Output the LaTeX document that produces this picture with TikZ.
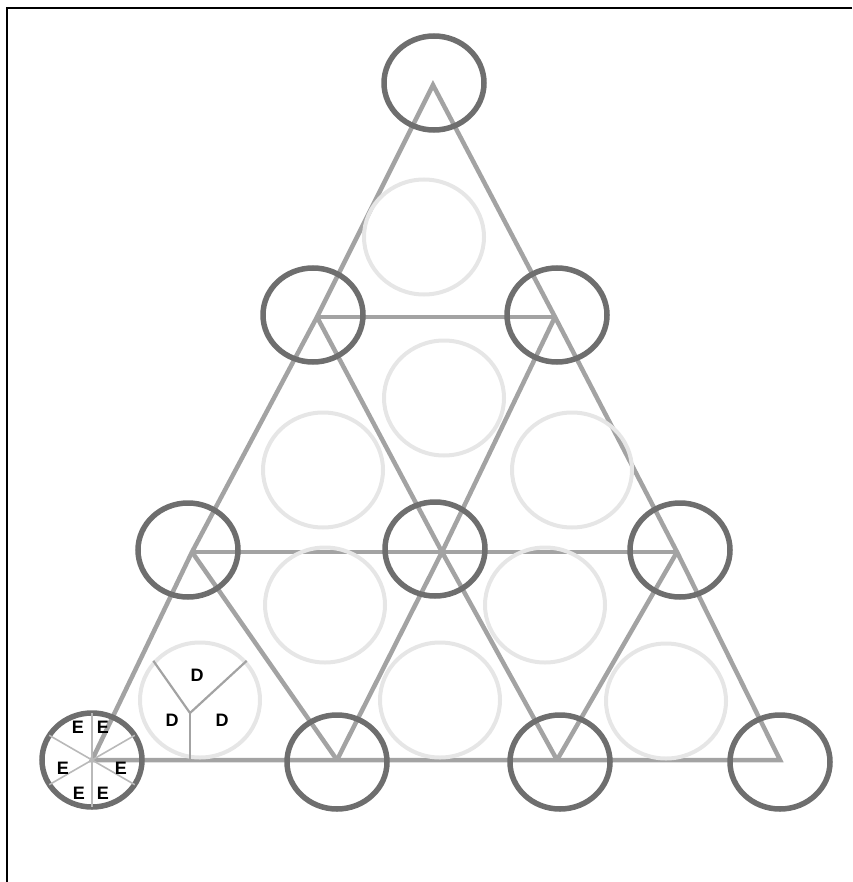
\documentclass[tikz,border=0pt]{standalone}
\usepackage{fontspec}
\setmainfont{Liberation Sans}
\usepackage{tikz}
\usepackage{xcolor}
\usetikzlibrary{shapes.geometric}
\definecolor{latline}{RGB}{163,163,163}
\definecolor{latring}{RGB}{110,110,110}
\definecolor{latpale}{RGB}{230,230,230}
\definecolor{latspoke}{RGB}{185,185,185}

\begin{document}
\begin{tikzpicture}[x=1pt,y=-1pt,
  every node/.style={font=\bfseries\fontsize{18}{18}\selectfont,inner sep=0pt},
  latedge/.style={draw=latline,line width=4.5pt},
  ring/.style={draw=latring,line width=5.5pt,ellipse,minimum width=100pt,minimum height=94pt},
  pale/.style={draw=latpale,line width=4pt,ellipse,minimum width=120pt,minimum height=115pt},
  spoke/.style={draw=latspoke,line width=1.6pt,shorten >=2.5pt},
  yline/.style={draw=latline,line width=2.2pt}]
\useasboundingbox (0,0) rectangle (852,882);
\draw[line width=2pt] (852,8) -- (7,8) -- (7,882);
% lattice points
\coordinate (a1) at (433,85);
\coordinate (b1) at (317,317);
\coordinate (b2) at (555,317);
\coordinate (c1) at (192,552);
\coordinate (c2) at (442,552);
\coordinate (c3) at (677,552);
\coordinate (d1) at (92,760);
\coordinate (d2) at (337,760);
\coordinate (d3) at (557,760);
\coordinate (d4) at (780,760);
% lattice lines
\draw[latedge] (a1) -- (b1) -- (c1) -- (d1) -- (d2) -- (d3) -- (d4) -- (c3) -- (b2) -- cycle;
\draw[latedge] (b1) -- (b2);
\draw[latedge] (c1) -- (c3);
\draw[latedge] (b1) -- (c2) -- (d3);
\draw[latedge] (b2) -- (c2) -- (d2);
\draw[latedge] (c1) -- (d2);
\draw[latedge] (c3) -- (d3);
% pale circles in the triangles
\node[pale] (p1) at (424,237) {};
\node[pale] (p2) at (444,398) {};
\node[pale] (p3) at (323,470) {};
\node[pale] (p4) at (572,470) {};
\node[pale] (p5) at (200,700) {};
\node[pale] (p6) at (325,605) {};
\node[pale] (p7) at (440,700) {};
\node[pale] (p8) at (545,605) {};
\node[pale] (p9) at (666,701) {};
% rings on the lattice points
\node[ring] (r1) at (434,83) {};
\node[ring] (r2) at (313,315) {};
\node[ring] (r3) at (557,315) {};
\node[ring] (r4) at (188,550) {};
\node[ring] (r5) at (435,549) {};
\node[ring] (r6) at (680,550) {};
\node[ring] (r7) at (92,760) {};
\node[ring] (r8) at (337,762) {};
\node[ring] (r9) at (560,762) {};
\node[ring] (r10) at (780,762) {};
% six sectors
\foreach \a in {30,90,...,330}
  \draw[spoke] (r7.center) -- (r7.\a);
\node (e1) at (78,727) {E};
\node (e2) at (103,727) {E};
\node (e3) at (63,768) {E};
\node (e4) at (121,768) {E};
\node (e5) at (79,793) {E};
\node (e6) at (103,793) {E};
% three sectors
\coordinate (yj) at (190,713);
\draw[yline] (p5.140) -- (yj) -- (p5.40);
\draw[yline] (yj) -- (yj |- d1);
\node (dl1) at (197,675) {D};
\node (dl2) at (172,720) {D};
\node (dl3) at (222,720) {D};
\end{tikzpicture}
\end{document}
